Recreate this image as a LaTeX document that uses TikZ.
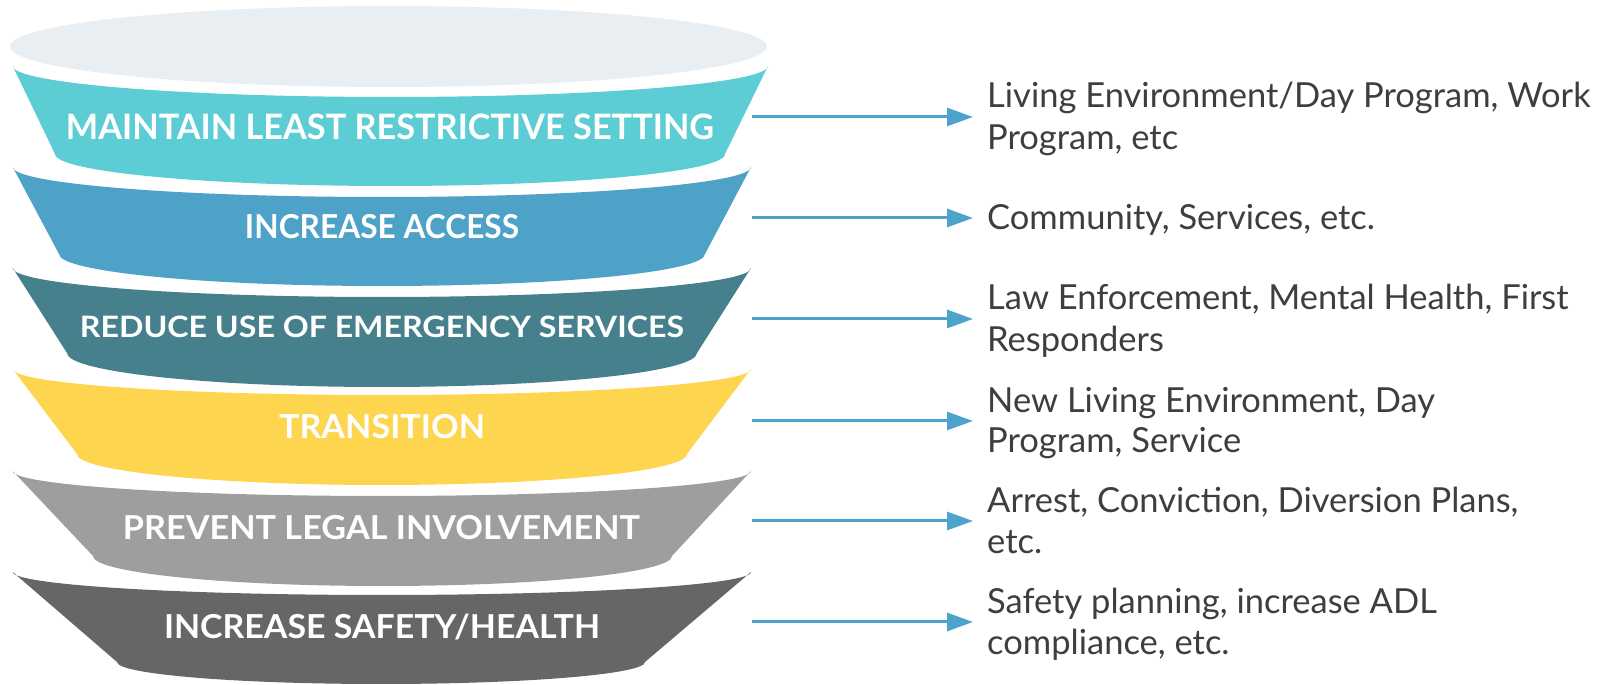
\documentclass[tikz,border=0pt]{standalone}
\usepackage{fontspec}
\setmainfont{Lato}
\usetikzlibrary{arrows.meta}
\definecolor{rimgray}{HTML}{E8EEF1}
\definecolor{bandA}{HTML}{5DCDD5}
\definecolor{bandB}{HTML}{4EA2C8}
\definecolor{bandC}{HTML}{47808D}
\definecolor{bandD}{HTML}{FED54F}
\definecolor{bandE}{HTML}{9E9E9E}
\definecolor{bandF}{HTML}{666666}
\definecolor{arrowblue}{HTML}{4DA3CB}
\definecolor{txtgray}{HTML}{3E3E3E}
\newcommand{\fitlabel}[3]{\resizebox{#1pt}{\height}{\fontsize{#2}{#2}\selectfont\bfseries #3}}
\tikzset{
  lbl/.style={text=white, inner sep=0pt, anchor=base},
  rtxt/.style={text=txtgray, inner sep=0pt, anchor=base west, font=\fontsize{34.5}{41}\selectfont},
  conn/.style={draw=arrowblue, line width=3pt, -{Triangle[length=26pt,width=18pt]}},
}
\begin{document}
\begin{tikzpicture}[x=1pt,y=1pt]
\useasboundingbox (0,0) rectangle (1607,685);
% top rim
\fill[rimgray] (388.5,685-46.5) ellipse [x radius=378.5, y radius=40.5];
% bands
\fill[bandA] (12.7,685-66) arc[start angle=180,end angle=360,x radius=377.65,y radius=31]
  -- (725,685-154) arc[start angle=0,end angle=-180,x radius=335,y radius=32] -- cycle;
\fill[bandB] (12.7,685-167) arc[start angle=180,end angle=360,x radius=369.15,y radius=30]
  -- (705,685-254) arc[start angle=0,end angle=-180,x radius=323,y radius=32] -- cycle;
\fill[bandC] (12.7,685-268) arc[start angle=180,end angle=360,x radius=369.15,y radius=29]
  -- (697,685-353) arc[start angle=0,end angle=-180,x radius=315,y radius=34] -- cycle;
\fill[bandD] (12.7,685-369) arc[start angle=180,end angle=360,x radius=369.15,y radius=26]
  -- (687,685-454) arc[start angle=0,end angle=-180,x radius=305,y radius=31] -- cycle;
\fill[bandE] (12.7,685-471) arc[start angle=180,end angle=360,x radius=369.15,y radius=25]
  -- (672,685-556) arc[start angle=0,end angle=-180,x radius=289.5,y radius=30] -- cycle;
\fill[bandF] (12.7,685-572) arc[start angle=180,end angle=360,x radius=369.15,y radius=23]
  -- (645,685-662) arc[start angle=0,end angle=-180,x radius=264,y radius=22] -- cycle;
% band labels
\node[lbl] (l1) at (390,685-139.5) {\fitlabel{648}{35}{MAINTAIN LEAST RESTRICTIVE SETTING}};
\node[lbl] (l2) at (382,685-238.8) {\fitlabel{274}{33}{INCREASE ACCESS}};
\node[lbl] (l3) at (382,685-337.5) {\fitlabel{604}{29.5}{REDUCE USE OF EMERGENCY SERVICES}};
\node[lbl] (l4) at (382,685-438.8) {\fitlabel{206}{33}{TRANSITION}};
\node[lbl] (l5) at (381.5,685-539.8) {\fitlabel{517}{33}{PREVENT LEGAL INVOLVEMENT}};
\node[lbl] (l6) at (382,685-638.8) {\fitlabel{436}{33}{INCREASE SAFETY/HEALTH}};
% connector endpoints
\coordinate (s1) at (752,685-117); \coordinate (e1) at (973,685-117);
\coordinate (s2) at (752,685-218); \coordinate (e2) at (973,685-218);
\coordinate (s3) at (752,685-319); \coordinate (e3) at (973,685-319);
\coordinate (s4) at (752,685-421); \coordinate (e4) at (973,685-421);
\coordinate (s5) at (752,685-521); \coordinate (e5) at (973,685-521);
\coordinate (s6) at (752,685-622); \coordinate (e6) at (973,685-622);
\foreach \i in {1,...,6} { \draw[conn] (s\i) -- (e\i); }
% right texts
\node[rtxt] (t1a) at (987,685-108) {Living Environment/Day Program, Work};
\node[rtxt] (t1b) at (987,685-150) {Program, etc};
\node[rtxt] (t2a) at (987,685-230) {Community, Services, etc.};
\node[rtxt] (t3a) at (987,685-310) {Law Enforcement, Mental Health, First};
\node[rtxt] (t3b) at (987,685-352) {Responders};
\node[rtxt] (t4a) at (987,685-413) {New Living Environment, Day};
\node[rtxt] (t4b) at (987,685-453) {Program, Service};
\node[rtxt] (t5a) at (987,685-513) {Arrest, Conviction, Diversion Plans,};
\node[rtxt] (t5b) at (987,685-554) {etc.};
\node[rtxt] (t6a) at (987,685-614) {Safety planning, increase ADL};
\node[rtxt] (t6b) at (987,685-655) {compliance, etc.};
\end{tikzpicture}
\end{document}
